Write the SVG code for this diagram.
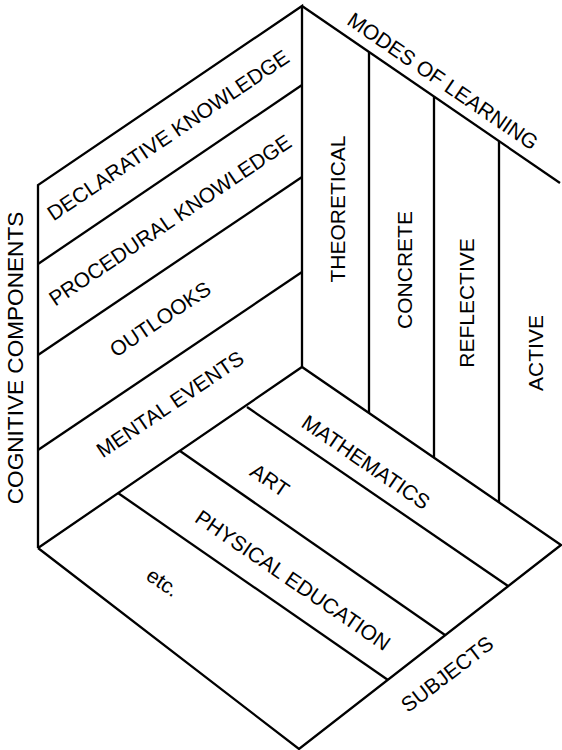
<svg xmlns="http://www.w3.org/2000/svg" width="562" height="750" viewBox="0 0 562 750">
<style>
.ln{fill:none;stroke:#000;stroke-width:2.3;stroke-linejoin:miter;stroke-linecap:butt}
.t{font-family:"Liberation Sans",Arial,Helvetica,sans-serif;font-size:21px;fill:#000;text-anchor:middle;dominant-baseline:central}
.big{font-size:22.6px}
</style>
<rect width="562" height="750" fill="#fff"/>
<g id="connectors">
<polyline class="ln" points="38,548 38,185 302,6 302,367"/>
<line class="ln" x1="38" y1="264" x2="302" y2="85"/>
<line class="ln" x1="38" y1="355" x2="302" y2="177"/>
<line class="ln" x1="38" y1="450" x2="302" y2="272"/>
<line class="ln" x1="302" y1="6" x2="560" y2="183"/>
<line class="ln" x1="369" y1="52" x2="369" y2="413"/>
<line class="ln" x1="434" y1="97" x2="434" y2="457"/>
<line class="ln" x1="499" y1="141" x2="499" y2="502"/>
<polyline class="ln" points="38,548 302,367 561,545 299,749 38,548"/>
<line class="ln" x1="247" y1="407" x2="508" y2="586"/>
<line class="ln" x1="180" y1="451" x2="445" y2="635"/>
<line class="ln" x1="118" y1="493" x2="388" y2="680"/>
</g>
<g id="cognitive-components">
<text class="t big" transform="translate(15,358) rotate(-90)">COGNITIVE COMPONENTS</text>
</g>
<g id="declarative-knowledge"><text class="t" transform="translate(168,135) rotate(-34.1)">DECLARATIVE KNOWLEDGE</text></g>
<g id="procedural-knowledge"><text class="t" transform="translate(170,220) rotate(-34.1)">PROCEDURAL KNOWLEDGE</text></g>
<g id="outlooks"><text class="t" transform="translate(160,319) rotate(-34.1)">OUTLOOKS</text></g>
<g id="mental-events"><text class="t" transform="translate(170,404) rotate(-34.1)">MENTAL EVENTS</text></g>
<g id="modes-of-learning"><text class="t" transform="translate(443,81) rotate(34.4)">MODES OF LEARNING</text></g>
<g id="theoretical"><text class="t" transform="translate(337,209) rotate(-90)">THEORETICAL</text></g>
<g id="concrete"><text class="t" transform="translate(404,270) rotate(-90)">CONCRETE</text></g>
<g id="reflective"><text class="t" transform="translate(466,303) rotate(-90)">REFLECTIVE</text></g>
<g id="active"><text class="t" transform="translate(535,353) rotate(-90)">ACTIVE</text></g>
<g id="mathematics"><text class="t" transform="translate(366,462) rotate(34.4)">MATHEMATICS</text></g>
<g id="art"><text class="t" transform="translate(270,480) rotate(34.4)">ART</text></g>
<g id="physical-education"><text class="t" transform="translate(293,580) rotate(34.4)">PHYSICAL EDUCATION</text></g>
<g id="etc"><text class="t" transform="translate(163,582) rotate(34.4)">etc.</text></g>
<g id="subjects"><text class="t" transform="translate(447,674) rotate(-37.5)">SUBJECTS</text></g>
</svg>
